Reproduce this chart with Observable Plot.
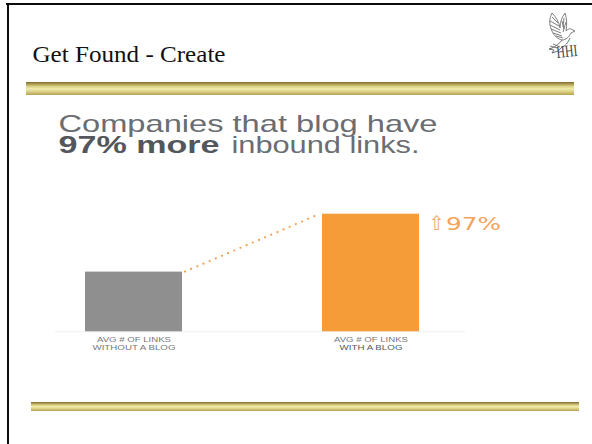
<!DOCTYPE html>
<html>
<head>
<meta charset="utf-8">
<script src="https://cdn.jsdelivr.net/npm/d3@7"></script>
<script src="https://cdn.jsdelivr.net/npm/@observablehq/plot@0.6"></script>
<style>
  html, body { margin: 0; padding: 0; background: #fff; }
  #slide { position: relative; width: 592px; height: 444px; overflow: hidden; }
  #slide > * { position: absolute; }
  .edge { background: #0c0c0c; }
  .gold { background: linear-gradient(#7f6c2e 0%, #a8944a 14%, #d8cf86 34%, #f1ecaa 52%, #ddd48c 72%, #b5a252 100%); }
  svg.plot { left: 0; top: 0; }
</style>
</head>
<body>
<div id="slide">
  <div class="edge" style="left:6px;top:3px;width:586px;height:2px"></div>
  <div class="edge" style="left:7px;top:3px;width:2px;height:441px"></div>
  <div class="gold" style="left:26px;top:82px;width:548px;height:13px"></div>
  <div class="gold" style="left:31px;top:402px;width:548px;height:9px"></div>

  <!-- dove emblem -->
  <svg style="left:545px;top:10px" width="44" height="60" viewBox="0 0 44 60" fill="none" stroke="#6f6f6f" stroke-width=".9">
    <path d="M7 3 C4 9 4 15 7 21 C9 26 13 29 17 30 C21 30 24 27 26 23 L30 21 L27 19.5 C25 18 23 19 21 21 C22 15 22 9 20 3 C17 7 15 12 15 18 C14 12 11 7 7 3 Z"/>
    <path d="M7 7 L13 13 M5 11 L14 16 M5 15 L15 20 M6 19 L16 23 M8 23 L17 26 M11 26 L18 28 M19 8 L18 17 M17 11 L19 19 M21 12 L18 22"/>
    <path d="M17 30 C14 34 11 36 7 38 L4 39 L9 40 L7 43 L13 41 L17 37 C20 36 23 33 25 28" stroke="#5f5f5f"/>
    <path d="M5 36 L12 38 M8 34 L15 37"/>
    <text x="12" y="48" transform="rotate(-6 12 48)" font-family="Liberation Serif" font-size="17" fill="#444" stroke="none" textLength="21" lengthAdjust="spacingAndGlyphs">HHI</text>
  </svg>
</div>
<script>
// Average inbound links, indexed to companies without a blog
const categories = ["without", "with"];
const linkIndex = [100, 197];
const barColors = ["#8f8f90", "#f59c38"];
const labelFirstLines = ["AVG # OF LINKS", "AVG # OF LINKS"];
const labelSecondLines = ["WITHOUT A BLOG", "WITH A BLOG"];
const secondLineColors = ["#77797c", "#55585c"];
const upliftLabel = "97%";
const upliftArrow = "⇧";

const bars = categories.map((category, i) => ({
  category,
  value: linkIndex[i],
  color: barColors[i],
  first: labelFirstLines[i],
  second: labelSecondLines[i],
  secondColor: secondLineColors[i]
}));
const blogBar = bars.filter((d) => d.category === "with");

// Rendered widths of the horizontally stretched lettering
const textWidths = new Map([
  ["Get Found - Create", 193],
  ["Companies that blog have", 379],
  ["97% more", 161],
  ["inbound links.", 188],
  ["AVG # OF LINKS", 74],
  ["WITHOUT A BLOG", 83],
  ["WITH A BLOG", 63],
  [upliftLabel, 55],
  [upliftArrow, 15]
]);

const frameTop = 213.7, frameLeft = 55;
const sans = "Liberation Sans, Arial, sans-serif";

// Pins a line of text to a spot on the slide, measured from the plot frame
const slideText = (text, px, baseline, options) => Plot.text([text], {
  frameAnchor: "top-left",
  lineAnchor: "bottom",
  textAnchor: "start",
  dx: px - frameLeft,
  dy: baseline - frameTop,
  fontFamily: sans,
  ...options
});

// Dotted connector from the top of one bar to the top of the next
const connector = (index, {x, y}) => {
  const line = d3.create("svg:line")
    .attr("x1", x(categories[0]) + x.bandwidth() + 3)
    .attr("y1", y(linkIndex[0]))
    .attr("x2", x(categories[1]) - 3)
    .attr("y2", y(linkIndex[1]) + 0.5)
    .attr("stroke", "#f3a04a")
    .attr("stroke-width", 2.2)
    .attr("stroke-linecap", "round")
    .attr("stroke-dasharray", "0 6.7");
  return line.node();
};

const chart = Plot.plot({
  width: 592,
  height: 444,
  marginTop: frameTop,
  marginBottom: 112.7,
  marginLeft: frameLeft,
  marginRight: 127,
  style: {background: "transparent", overflow: "visible"},
  x: {domain: categories, range: [85, 419.5], paddingInner: 0.589, paddingOuter: 0, axis: null},
  y: {domain: [0, 197], axis: null},
  marks: [
    Plot.ruleY([0], {stroke: "#efefef", strokeWidth: 1}),
    connector,
    Plot.barY(bars, {x: "category", y: "value", fill: "color"}),
    Plot.text(bars, {x: "category", y: 0, text: "first", dy: 5, lineAnchor: "top", fontFamily: sans, fontSize: 7.5, fill: "#77797c"}),
    Plot.text(bars, {x: "category", y: 0, text: "second", dy: 13, lineAnchor: "top", fontFamily: sans, fontSize: 7.5, fill: "secondColor", fontWeight: (d) => d.category === "with" ? 700 : 400}),
    Plot.text(blogBar, {
      x: "category", y: "value", text: () => upliftArrow,
      dx: 58, dy: 2, lineAnchor: "top", textAnchor: "start",
      fontFamily: "DejaVu Sans", fontSize: 20, fill: "#f3a45c"
    }),
    Plot.text(blogBar, {
      x: "category", y: "value", text: () => upliftLabel,
      dx: 75, dy: 3, lineAnchor: "top", textAnchor: "start",
      fontFamily: "DejaVu Sans", fontSize: 18, fill: "#f3a45c"
    }),
    slideText("Get Found - Create", 32, 61, {fontFamily: "Liberation Serif", fontSize: 24, fill: "#111"}),
    slideText("Companies that blog have", 58, 131, {fontSize: 24, fill: "#6a6d71"}),
    slideText("97% more", 58, 152, {fontSize: 24, fontWeight: 700, fill: "#53565a"}),
    slideText("inbound links.", 231, 152, {fontSize: 24, fill: "#6a6d71"})
  ]
});

// Stretch each line to its set width
d3.select(chart).selectAll("text").each(function () {
  const width = textWidths.get(this.textContent);
  if (width) {
    this.setAttribute("textLength", width);
    this.setAttribute("lengthAdjust", "spacingAndGlyphs");
  }
});

document.getElementById("slide").appendChild(chart);
</script>
</body>
</html>
